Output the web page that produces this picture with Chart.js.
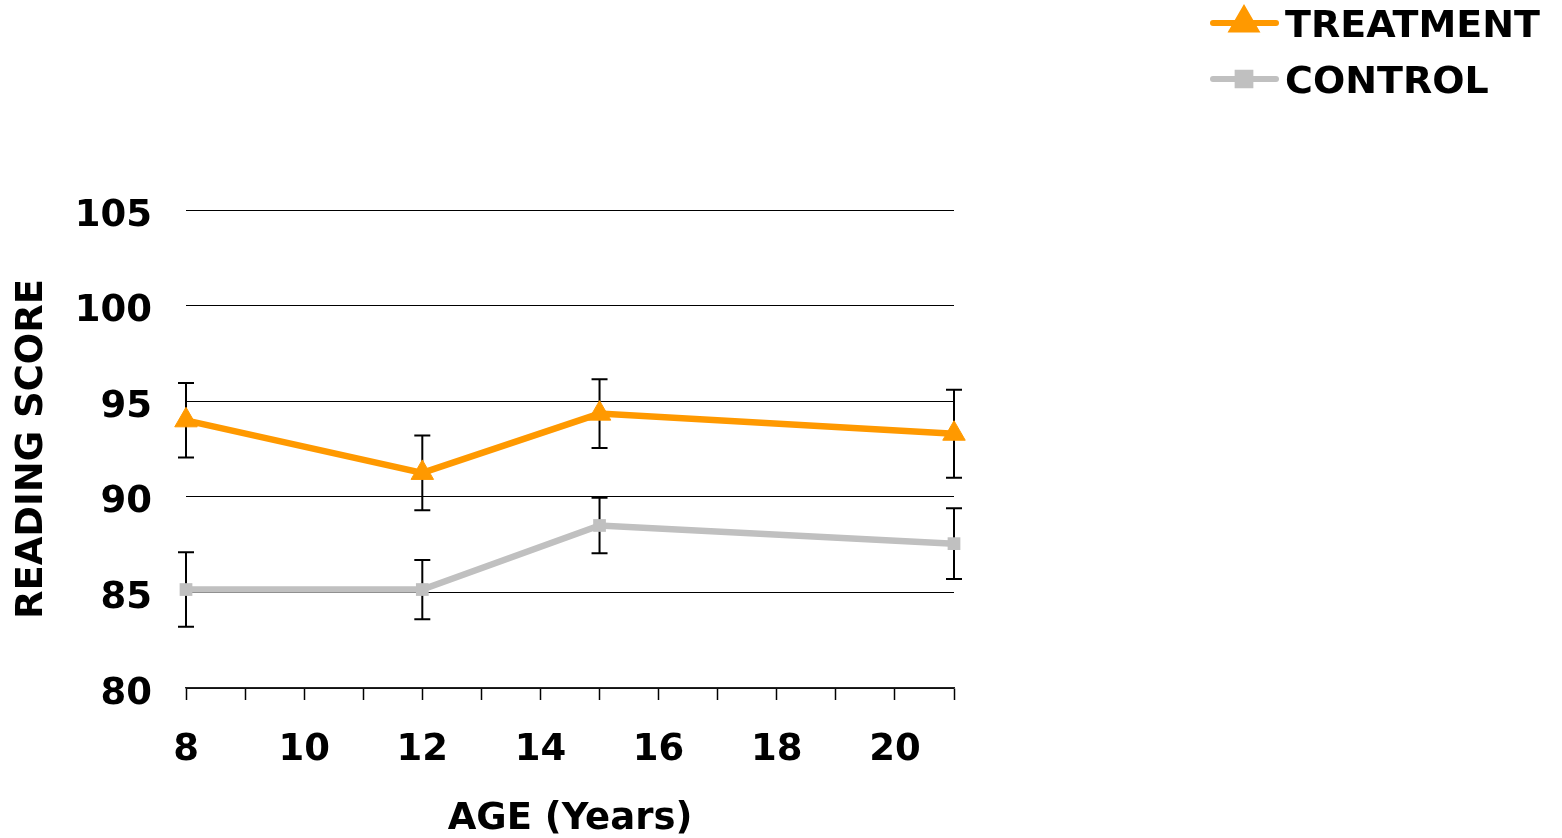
<!DOCTYPE html>
<html lang="en">
<head>
  <meta charset="UTF-8">
  <title>Reading Score by Age</title>
  <style>
    html, body { margin: 0; padding: 0; background: #fff; }
    #chart-wrap { width: 1562px; height: 838px; }
  </style>
</head>
<body>
  <div id="chart-wrap">
    <canvas id="reading-chart" width="1562" height="838"></canvas>
  </div>

  <script src="https://cdn.jsdelivr.net/npm/chart.js"></script>
  <script>
    // values
    const ages = [8, 12, 15, 21];
    const treatment = [94.0, 91.25, 94.35, 93.3];
    const treatmentErr = [1.95, 1.95, 1.8, 2.3];
    const control = [85.15, 85.15, 88.5, 87.55];
    const controlErr = [1.95, 1.55, 1.45, 1.85];
    const xTickLabels = [8, 10, 12, 14, 16, 18, 20];
    const seriesNames = ['TREATMENT', 'CONTROL'];

    const FONT = '"DejaVu Sans", "Liberation Sans", sans-serif';
    const orange = '#FF9900';
    const grey = '#C0C0C0';

    // error bars, drawn under the lines so the markers sit on top
    const errorBars = {
      id: 'errorBars',
      beforeDatasetsDraw(chart) {
        const ctx = chart.ctx;
        const xs = chart.scales.x, ys = chart.scales.y;
        ctx.save();
        ctx.strokeStyle = '#000';
        ctx.lineWidth = 2;
        chart.data.datasets.forEach(ds => {
          ds.data.forEach((p, i) => {
            const x = xs.getPixelForValue(p.x);
            const top = ys.getPixelForValue(p.y + ds.errors[i]);
            const bot = ys.getPixelForValue(p.y - ds.errors[i]);
            ctx.beginPath();
            ctx.moveTo(x, top); ctx.lineTo(x, bot);
            ctx.moveTo(x - 8, top); ctx.lineTo(x + 8, top);
            ctx.moveTo(x - 8, bot); ctx.lineTo(x + 8, bot);
            ctx.stroke();
          });
        });
        ctx.restore();
      }
    };

    // legend stacked in the top right corner, line + marker like the original
    const cornerLegend = {
      id: 'cornerLegend',
      afterDraw(chart) {
        const ctx = chart.ctx;
        const rows = [23, 79];
        ctx.save();
        chart.data.datasets.forEach((ds, i) => {
          const y = rows[i];
          ctx.strokeStyle = ds.borderColor;
          ctx.lineWidth = 6;
          ctx.lineCap = 'round';
          ctx.beginPath();
          ctx.moveTo(1213, y); ctx.lineTo(1276, y);
          ctx.stroke();
          ctx.fillStyle = ds.borderColor;
          Chart.helpers.drawPoint(ctx, {
            pointStyle: ds.pointStyle,
            radius: ds.pointRadius,
            borderWidth: 1,
            rotation: 0
          }, 1244, y);
          ctx.fillStyle = '#000';
          ctx.font = 'bold 38px ' + FONT;
          ctx.textBaseline = 'alphabetic';
          ctx.textAlign = 'left';
          ctx.fillText(ds.label, 1285, y + 14);
        });
        ctx.restore();
      }
    };

    const ctx = document.getElementById('reading-chart').getContext('2d');
    new Chart(ctx, {
      type: 'line',
      data: {
        datasets: [{
          label: seriesNames[0],
          data: ages.map((a, i) => ({ x: a, y: treatment[i] })),
          errors: treatmentErr,
          borderColor: orange,
          backgroundColor: orange,
          borderWidth: 6.5,
          pointStyle: 'triangle',
          pointRadius: 13,
          pointBorderWidth: 1,
          pointBackgroundColor: orange,
          pointBorderColor: orange,
          clip: false,
          tension: 0
        }, {
          label: seriesNames[1],
          data: ages.map((a, i) => ({ x: a, y: control[i] })),
          errors: controlErr,
          borderColor: grey,
          backgroundColor: grey,
          borderWidth: 6.5,
          pointStyle: 'rect',
          pointRadius: 9,
          pointBorderWidth: 0,
          pointBackgroundColor: grey,
          pointBorderColor: grey,
          clip: false,
          tension: 0
        }]
      },
      options: {
        responsive: false,
        animation: false,
        layout: { padding: { left: 14, top: 210, right: 608, bottom: 0 } },
        plugins: {
          legend: { display: false },
          tooltip: { enabled: false }
        },
        scales: {
          x: {
            type: 'linear',
            min: 8,
            max: 21,
            afterFit: s => { s.height = 150; },
            ticks: {
              stepSize: 1,
              autoSkip: false,
              maxRotation: 0,
              padding: 32,
              color: '#000',
              font: { family: FONT, size: 37, weight: 'bold', lineHeight: 1 },
              callback: v => xTickLabels.includes(v) ? String(v) : ''
            },
            grid: {
              drawOnChartArea: false,
              drawTicks: true,
              tickLength: 12,
              tickColor: '#000',
              tickWidth: 1.5
            },
            border: { display: true, color: '#222', width: 1.5 },
            title: {
              display: true,
              text: 'AGE (Years)',
              color: '#000',
              padding: 0,
              font: { family: FONT, size: 37, weight: 'bold', lineHeight: 1 }
            }
          },
          y: {
            min: 80,
            max: 105,
            afterFit: s => { s.width = 172; },
            ticks: {
              stepSize: 5,
              padding: 34,
              labelOffset: 6,
              color: '#000',
              font: { family: FONT, size: 37, weight: 'bold', lineHeight: 1 }
            },
            grid: {
              color: '#000',
              lineWidth: 1,
              drawTicks: false
            },
            border: { display: false },
            title: {
              display: true,
              text: 'READING SCORE',
              color: '#000',
              padding: 0,
              font: { family: FONT, size: 37, weight: 'bold', lineHeight: 1 }
            }
          }
        }
      },
      plugins: [errorBars, cornerLegend]
    });
  </script>
</body>
</html>
